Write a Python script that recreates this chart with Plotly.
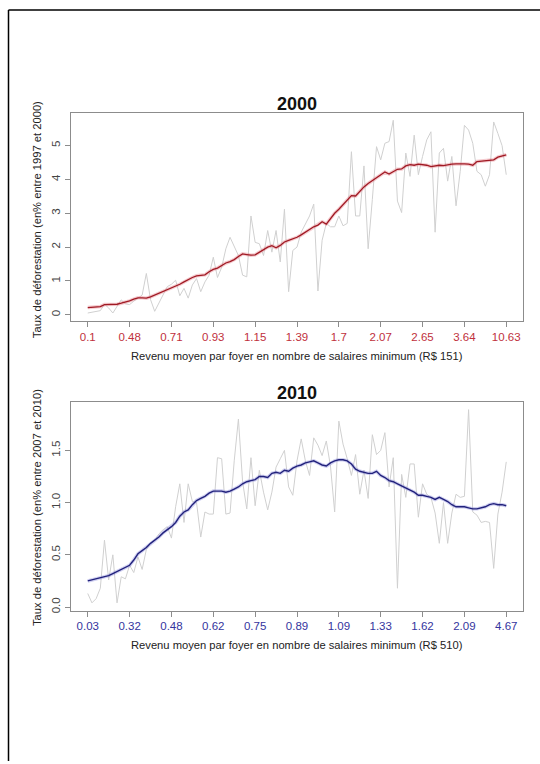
import plotly.graph_objects as go

# ---------- data ----------
labels_2000 = ["0.1", "0.48", "0.71", "0.93", "1.15", "1.39", "1.7", "2.07", "2.65", "3.64", "10.63"]
labels_2010 = ["0.03", "0.32", "0.48", "0.62", "0.75", "0.89", "1.09", "1.33", "1.62", "2.09", "4.67"]

raw_2000 = [
    0.05, 0.07, 0.10, 0.12, 0.31, 0.20, 0.05, 0.25, 0.44, 0.32,
    0.30, 0.40, 0.49, 0.58, 1.22, 0.45, 0.10, 0.35, 0.58, 0.83,
    0.90, 1.02, 0.56, 0.78, 0.49, 0.88, 1.07, 0.68, 0.97, 1.17,
    1.70, 1.10, 1.40, 1.95, 2.29, 2.00, 1.75, 1.17, 1.12, 2.92,
    2.14, 2.10, 1.75, 2.49, 1.85, 2.49, 1.56, 3.12, 0.68, 1.90,
    2.00, 2.44, 2.70, 2.92, 3.27, 0.70, 2.20, 2.70, 2.60, 2.60,
    2.92, 2.63, 2.70, 4.82, 2.92, 2.92, 4.40, 1.95, 3.41, 4.97,
    4.58, 5.07, 5.12, 5.75, 3.36, 3.02, 4.78, 4.09, 5.31, 4.14,
    4.68, 5.17, 5.41, 2.44, 4.78, 4.92, 3.95, 4.68, 3.22, 4.24,
    5.60, 5.46, 5.07, 4.24, 4.14, 3.80, 4.14, 5.70, 5.36, 5.00, 4.14,
]
smooth_2000 = [
    0.21, 0.22, 0.22, 0.24, 0.30, 0.30, 0.29, 0.31, 0.34, 0.37,
    0.41, 0.46, 0.50, 0.50, 0.49, 0.53, 0.58, 0.63, 0.68, 0.73,
    0.78, 0.84, 0.90, 0.97, 1.04, 1.10, 1.15, 1.16, 1.18, 1.27,
    1.34, 1.38, 1.45, 1.53, 1.57, 1.63, 1.72, 1.80, 1.78, 1.76,
    1.77, 1.84, 1.92, 2.00, 2.04, 1.98, 2.05, 2.15, 2.20, 2.24,
    2.29, 2.36, 2.44, 2.52, 2.60, 2.65, 2.75, 2.68, 2.85, 3.00,
    3.12, 3.25, 3.40, 3.52, 3.51, 3.65, 3.78, 3.88, 3.96, 4.05,
    4.12, 4.22, 4.16, 4.22, 4.30, 4.31, 4.40, 4.44, 4.42, 4.45,
    4.44, 4.42, 4.38, 4.40, 4.42, 4.41, 4.44, 4.45, 4.46, 4.47,
    4.46, 4.45, 4.42, 4.53, 4.54, 4.55, 4.58, 4.58, 4.66, 4.70, 4.73,
]

raw_2010 = [
    0.13, 0.04, 0.08, 0.18, 0.64, 0.26, 0.50, 0.04, 0.29, 0.27,
    0.40, 0.33, 0.48, 0.36, 0.55, 0.61, 0.64, 0.70, 0.74, 0.77,
    0.66, 0.96, 1.18, 0.81, 1.18, 1.01, 1.00, 0.67, 0.91, 0.89,
    0.89, 1.43, 1.42, 0.89, 0.90, 1.40, 1.80, 1.20, 0.94, 1.43,
    0.97, 1.31, 1.10, 0.93, 1.10, 1.34, 1.42, 1.50, 1.15, 1.07,
    1.40, 1.61, 1.40, 1.26, 1.62, 1.55, 1.45, 1.59, 1.35, 0.91,
    1.78, 1.56, 1.42, 1.26, 1.46, 1.08, 1.31, 1.04, 1.65, 1.46,
    1.50, 1.67, 1.15, 1.43, 0.18, 1.27, 1.05, 1.37, 1.37, 0.86,
    1.18, 1.08, 1.05, 0.90, 0.61, 1.00, 0.61, 0.90, 1.08, 1.05,
    1.06, 1.89, 0.91, 0.88, 0.81, 0.82, 0.81, 0.37, 0.89, 1.10, 1.39,
]
smooth_2010 = [
    0.25, 0.26, 0.27, 0.28, 0.29, 0.30, 0.32, 0.34, 0.36, 0.38,
    0.40, 0.45, 0.51, 0.54, 0.57, 0.61, 0.64, 0.67, 0.71, 0.74,
    0.77, 0.81, 0.87, 0.91, 0.93, 0.98, 1.02, 1.04, 1.06, 1.09,
    1.11, 1.11, 1.11, 1.10, 1.11, 1.13, 1.15, 1.18, 1.20, 1.21,
    1.22, 1.25, 1.25, 1.24, 1.28, 1.29, 1.28, 1.31, 1.30, 1.33,
    1.35, 1.36, 1.38, 1.39, 1.40, 1.38, 1.36, 1.35, 1.38, 1.40,
    1.41, 1.41, 1.40, 1.37, 1.32, 1.30, 1.29, 1.28, 1.28, 1.30,
    1.26, 1.24, 1.21, 1.20, 1.18, 1.16, 1.14, 1.12, 1.10, 1.07,
    1.07, 1.06, 1.05, 1.03, 1.05, 1.03, 1.01, 0.98, 0.96, 0.96,
    0.96, 0.95, 0.94, 0.94, 0.95, 0.96, 0.98, 0.99, 0.98, 0.98, 0.97,
]

yticks_2000 = [0, 1, 2, 3, 4, 5]
yticks_2010 = [0.0, 0.5, 1.0, 1.5]
ytick_text_2010 = ["0.0", "0.5", "1.0", "1.5"]

# ---------- layout helpers ----------
W, H = 540, 764
FONT = "Liberation Sans, Arial, Helvetica, sans-serif"
RED_TXT = "#C0303C"
BLUE_TXT = "#34349E"
idx = list(range(len(raw_2000)))
tickpos = idx[::10]


def pad_range(vals, frac=0.04):
    lo, hi = min(vals), max(vals)
    d = (hi - lo) * frac
    return [lo - d, hi + d]


def px_x(p):
    return p / W


def px_y(p):
    return 1 - p / H


fig = go.Figure()

# panel 1
fig.add_trace(go.Scatter(x=idx, y=raw_2000, mode="lines", line=dict(color="#D0D0D0", width=1),
                         xaxis="x", yaxis="y", hoverinfo="skip"))
fig.add_trace(go.Scatter(x=idx, y=smooth_2000, mode="lines", line=dict(color="rgba(225,110,120,0.35)", width=3.5),
                         xaxis="x", yaxis="y", hoverinfo="skip"))
fig.add_trace(go.Scatter(x=idx, y=smooth_2000, mode="lines", line=dict(color="#A01A24", width=1.3),
                         xaxis="x", yaxis="y"))
# panel 2
fig.add_trace(go.Scatter(x=idx, y=raw_2010, mode="lines", line=dict(color="#D0D0D0", width=1),
                         xaxis="x2", yaxis="y2", hoverinfo="skip"))
fig.add_trace(go.Scatter(x=idx, y=smooth_2010, mode="lines", line=dict(color="rgba(100,100,210,0.3)", width=3.5),
                         xaxis="x2", yaxis="y2", hoverinfo="skip"))
fig.add_trace(go.Scatter(x=idx, y=smooth_2010, mode="lines", line=dict(color="#22227C", width=1.4),
                         xaxis="x2", yaxis="y2"))

axis_common = dict(showgrid=False, zeroline=False, showline=True, mirror=True,
                   linecolor="#8C8C8C", linewidth=1, ticks="outside", ticklen=5,
                   tickcolor="#8C8C8C", tickwidth=1)

x_dom = [px_x(71), px_x(523)]
xr = pad_range(idx)

fig.update_layout(
    width=W, height=H, margin=dict(l=0, r=0, t=0, b=0),
    paper_bgcolor="white", plot_bgcolor="white", showlegend=False,
    font=dict(family=FONT, size=11, color="#333333"),
    xaxis=dict(domain=x_dom, range=xr, tickvals=tickpos, ticktext=labels_2000,
               tickfont=dict(color=RED_TXT, size=11.5), anchor="y", **axis_common),
    yaxis=dict(domain=[px_y(322), px_y(113)], range=pad_range(raw_2000), tickvals=yticks_2000,
               tickangle=-90, tickfont=dict(color="#444444", size=11.5), anchor="x", **axis_common),
    xaxis2=dict(domain=x_dom, range=xr, tickvals=tickpos, ticktext=labels_2010,
                tickfont=dict(color=BLUE_TXT, size=11.5), anchor="y2", **axis_common),
    yaxis2=dict(domain=[px_y(613), px_y(403.5)], range=pad_range(raw_2010), tickvals=yticks_2010,
                ticktext=ytick_text_2010, tickangle=-90, tickfont=dict(color="#444444", size=11.5),
                anchor="x2", **axis_common),
)

cx = px_x((71 + 523) / 2)
ann = [
    dict(text="<b>2000</b>", x=cx, y=px_y(104.5), font=dict(size=18, color="#111111")),
    dict(text="<b>2010</b>", x=cx, y=px_y(394.5), font=dict(size=18, color="#111111")),
    dict(text="Revenu moyen par foyer en nombre de salaires minimum (R$ 151)", x=cx, y=px_y(357),
         font=dict(size=11.2, color="#222222")),
    dict(text="Revenu moyen par foyer en nombre de salaires minimum (R$ 510)", x=cx, y=px_y(648),
         font=dict(size=11.2, color="#222222")),
    dict(text="Taux de déforestation (en% entre 1997 et 2000)", x=px_x(37), y=px_y(221),
         textangle=-90, font=dict(size=11.2, color="#222222")),
    dict(text="Taux de déforestation (en% entre 2007 et 2010)", x=px_x(37), y=px_y(510),
         textangle=-90, font=dict(size=11.2, color="#222222")),
]
for a in ann:
    a.update(xref="paper", yref="paper", showarrow=False, xanchor="center", yanchor="middle")
fig.update_layout(annotations=ann)

# outer frame (left and top edges of the page border)
fig.add_shape(type="line", xref="paper", yref="paper", x0=px_x(8.5), x1=px_x(8.5), y0=0, y1=px_y(10),
              line=dict(color="black", width=1.5))
fig.add_shape(type="line", xref="paper", yref="paper", x0=px_x(8.5), x1=1, y0=px_y(10), y1=px_y(10),
              line=dict(color="black", width=1.5))

fig.write_html("out.html", config={"displayModeBar": False},
               post_script="document.body.style.margin='0';document.body.style.overflow='hidden';")
